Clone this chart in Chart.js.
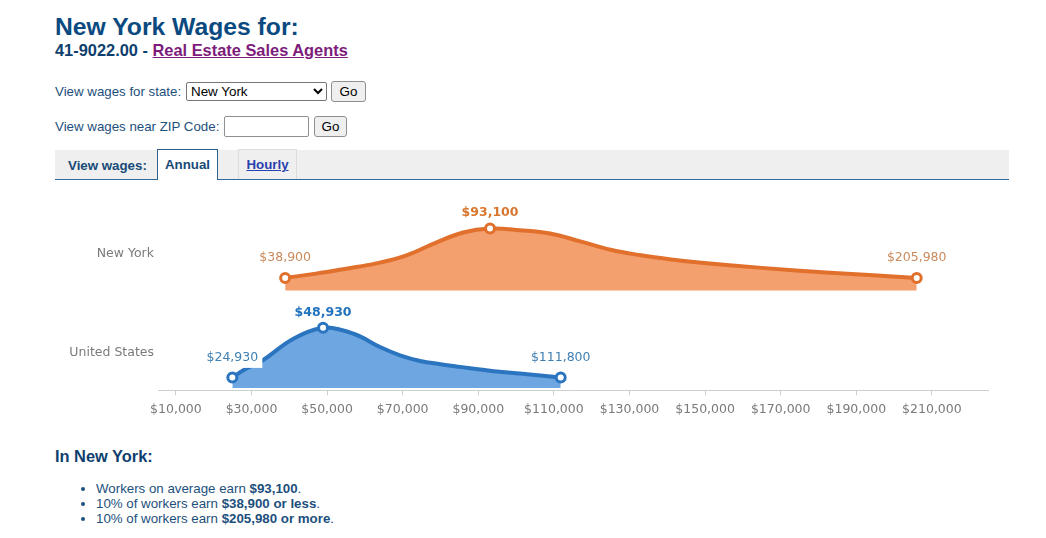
<!DOCTYPE html>
<html lang="en">
<head>
<meta charset="utf-8">
<title>New York Wages</title>
<script src="https://cdn.jsdelivr.net/npm/chart.js@4"></script>
<style>
html,body{margin:0;padding:0;background:#fff;width:1046px;height:538px;overflow:hidden}
body{font-family:"Liberation Sans",Arial,sans-serif;color:#1d4f7c;position:relative}
.a{position:absolute;white-space:nowrap}
h1,h2,p,ul{margin:0;padding:0}
select,input,button{font-family:"Liberation Sans",Arial,sans-serif;font-size:13.4px;box-sizing:border-box;color:#000;margin:0}
button{background:#efefef;border:1px solid #8f8f8f;border-radius:3px;padding:0}
#chartWrap{position:absolute;left:0;top:190px;width:1046px;height:240px}
</style>
</head>
<body>
<h1 class="a" style="left:55px;top:12px;font-size:24.7px;line-height:30px;color:#0b4a80">New York Wages for:</h1>
<h2 class="a" style="left:55px;top:40px;font-size:16.4px;line-height:20px;color:#0f3f6e">41-9022.00 - <a href="#" style="color:#7d1c7b">Real Estate Sales Agents</a></h2>

<div class="a" style="left:55px;top:83px;font-size:13.3px;line-height:17px">View wages for state:</div>
<select class="a" style="left:186px;top:82px;width:141px;height:19px;background:#fff;border:1px solid #767676;border-radius:2px"><option>New York</option></select>
<button class="a" style="left:331px;top:81px;width:35px;height:21px">Go</button>

<div class="a" style="left:55px;top:118px;font-size:13.3px;line-height:17px">View wages near ZIP Code:</div>
<input class="a" type="text" style="left:224px;top:116px;width:85px;height:21px;border:1px solid #8f8f8f;border-radius:2px;background:#fff">
<button class="a" style="left:314px;top:116px;width:33px;height:21px">Go</button>

<div class="a" style="left:55px;top:150px;width:954px;height:29px;background:#efefef"></div>
<div class="a" style="left:55px;top:179px;width:954px;height:1px;background:#2f6a9a"></div>
<div class="a" style="left:68px;top:157px;font-size:13.3px;line-height:17px;font-weight:bold;color:#174a78">View wages:</div>
<div class="a" style="left:157px;top:149px;width:61px;height:31px;box-sizing:border-box;background:#fff;border:1.5px solid #2f5f8a;border-bottom:none;text-align:center;font-size:13.3px;line-height:29px;font-weight:bold;color:#174a78">Annual</div>
<div class="a" style="left:238px;top:149px;width:59px;height:30px;box-sizing:border-box;border:1px solid #dcdcdc;border-bottom:none;text-align:center;font-size:13.3px;line-height:30px;font-weight:bold"><a href="#" style="color:#2a3fae">Hourly</a></div>

<div id="chartWrap"><canvas id="chart" width="1046" height="240"></canvas></div>

<h2 class="a" style="left:55px;top:446px;font-size:16.4px;line-height:20px;color:#0f3f6e">In New York:</h2>
<ul class="a" style="left:96px;top:481px;font-size:13.3px;line-height:15px;color:#1d4f7c">
<li>Workers on average earn <b>$93,100</b>.</li>
<li>10% of workers earn <b>$38,900 or less</b>.</li>
<li>10% of workers earn <b>$205,980 or more</b>.</li>
</ul>

<script>
const nyWages = [38900,47000,55000,63000,71000,79000,86000,93100,101000,109000,117000,125000,133000,141000,149000,165000,183000,205980];
const nyLevels = [12.7,17,22,27.3,35.5,48.5,58.5,62.4,60.8,57.5,49.5,41,35.5,31.3,28,22.8,18,12.7];
const usWages = [24930,28300,32800,41100,48930,54300,58700,64000,69300,74600,80000,85200,90500,95700,101000,111800];
const usLevels = [10.7,19,27.5,49.7,60.7,58,52,41.3,33,27.3,24,21.3,18.7,16.3,14.6,10.7];
const nyMarked = [38900,93100,205980];
const usMarked = [24930,48930,111800];
const nyPeak = 93100;
const usPeak = 48930;
const xTickValues = [10000,30000,50000,70000,90000,110000,130000,150000,170000,190000,210000];
const rowNames = ['United States','New York'];

const fmt = v => '$' + Number(v).toLocaleString('en-US');
const toPoints = (xs, ys) => xs.map((x, i) => ({x, y: ys[i]}));
const FONT = '"DejaVu Sans", Verdana, sans-serif';

const pointLabels = {
  id: 'pointLabels',
  afterDatasetsDraw(chart) {
    const ctx = chart.ctx;
    chart.data.datasets.forEach((ds, di) => {
      const meta = chart.getDatasetMeta(di);
      ds.data.forEach((p, i) => {
        if (!ds.marked.includes(p.x)) return;
        const el = meta.data[i];
        const peak = p.x === ds.peak;
        const cy = el.y - (peak ? 15.5 : 20);
        ctx.save();
        if (!peak) {
          ctx.fillStyle = '#fff';
          ctx.fillRect(el.x - 30, cy - 10, 60, 20.5);
        }
        ctx.font = (peak ? 'bold ' : '') + '12.5px ' + FONT;
        ctx.textAlign = 'center';
        ctx.textBaseline = 'middle';
        ctx.fillStyle = peak ? ds.peakText : ds.endText;
        ctx.fillText(fmt(p.x), el.x, cy);
        ctx.restore();
      });
    });
  }
};

const series = (label, xs, ys, marked, peak, axis, line, fillColor, peakText, endText) => ({
  label, yAxisID: axis, marked, peak, peakText, endText,
  data: toPoints(xs, ys),
  borderColor: line,
  borderWidth: 4,
  backgroundColor: fillColor,
  fill: {value: 0},
  tension: 0.4,
  clip: false,
  pointRadius: c => marked.includes(c.raw.x) ? 4.5 : 0,
  pointBorderWidth: 3,
  pointBorderColor: line,
  pointBackgroundColor: '#fff',
  pointHoverRadius: 4.5
});

new Chart(document.getElementById('chart'), {
  type: 'line',
  data: {
    datasets: [
      series('New York', nyWages, nyLevels, nyMarked, nyPeak, 'yNY', '#e0702c', '#f49f6e', '#d9762e', '#c98a5c'),
      series('United States', usWages, usLevels, usMarked, usPeak, 'yUS', '#2b74bf', '#6da6e1', '#2273bd', '#3f7fb2')
    ]
  },
  plugins: [pointLabels],
  options: {
    responsive: false,
    animation: false,
    layout: {padding: {left: 0, right: 58, top: 10, bottom: 9.7}},
    plugins: {legend: {display: false}, tooltip: {enabled: false}},
    scales: {
      x: {
        type: 'linear',
        min: 5265,
        max: 224840,
        afterBuildTicks: s => { s.ticks = xTickValues.map(value => ({value})); },
        afterFit: s => { s.height = 30; },
        grid: {drawOnChartArea: false, tickColor: '#cfcfcf', tickLength: 5},
        border: {color: '#cfcfcf', width: 1},
        ticks: {
          color: '#7a7a7a', padding: 7, maxRotation: 0, autoSkip: false,
          font: {family: FONT, size: 12.5},
          callback: v => fmt(v)
        }
      },
      yUS: {
        type: 'linear',
        position: 'left',
        min: -2.3,
        max: 188,
        afterBuildTicks: s => { s.ticks = [{value: 35.5}, {value: 135.5}]; },
        afterFit: s => { s.width = 158; },
        grid: {display: false, tickLength: 0},
        border: {display: false},
        ticks: {
          color: '#7a7a7a', padding: 4, autoSkip: false,
          font: {family: FONT, size: 12.5},
          callback: (v, i) => rowNames[i]
        }
      },
      yNY: {
        type: 'linear',
        display: false,
        min: -100.6,
        max: 89.7
      }
    }
  }
});
</script>
</body>
</html>
